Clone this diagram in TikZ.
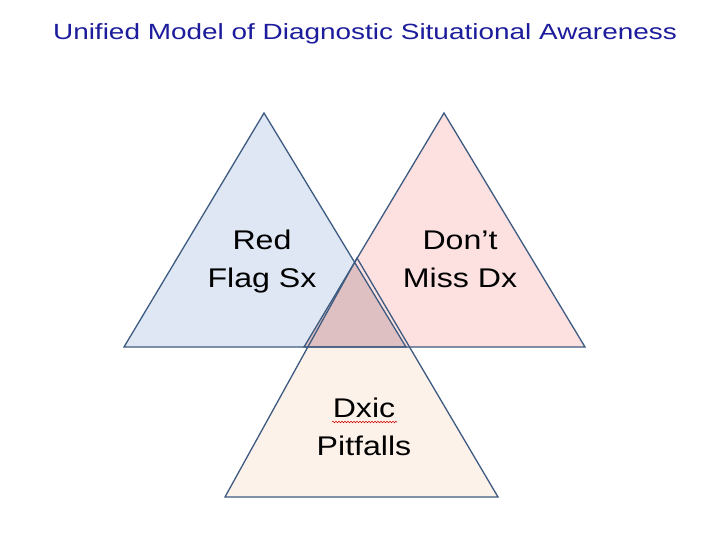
\documentclass[tikz,border=0pt]{standalone}
\usepackage{fontspec}
\setmainfont{Liberation Sans}
\usetikzlibrary{decorations.pathmorphing}

\definecolor{edgeblue}{HTML}{3D5A80}
\definecolor{titleblue}{HTML}{1C1C9C}
\definecolor{blueface}{HTML}{DEE7F3}
\definecolor{pinkface}{HTML}{FDE0E0}
\definecolor{peachface}{HTML}{FDF2EA}
\definecolor{mauveface}{HTML}{DFC0C2}

\begin{document}
\begin{tikzpicture}[
        x=1pt, y=-1pt,
        triline/.style={
            draw=edgeblue,
            line width=1.3pt,
            line join=miter},
        trilabel/.style={
            align=center,
            inner sep=0pt,
            xscale=1.19,
            font=\fontsize{27}{38}\selectfont},
        spellmark/.style={
            draw=red!80!black,
            line width=0.5pt,
            decorate,
            decoration={snake,amplitude=0.8pt,segment length=3pt}}
        ]
        \useasboundingbox (0,0) rectangle (720,540);

        % corners of the three triangles
        \coordinate (la) at (264,113);
        \coordinate (lb) at (124,347);
        \coordinate (lc) at (406,347);
        \coordinate (ra) at (444,113);
        \coordinate (rb) at (304,347);
        \coordinate (rc) at (585,347);
        \coordinate (ba) at (357,258);
        \coordinate (bb) at (225,497);
        \coordinate (bc) at (498,497);

        \node[font=\fontsize{22}{26}\selectfont,xscale=1.27,text=titleblue] (title) at (365,34)
            {Unified Model of Diagnostic Situational Awareness};

        \foreach \a/\b/\c/\f in {% apex/left/right/fill
            ba/bb/bc/peachface,
            la/lb/lc/blueface,
            ra/rb/rc/pinkface}
            \fill[\f] (\a) -- (\b) -- (\c) -- cycle;

        % where the two upper triangles overlap
        \begin{scope}
            \clip (la) -- (lb) -- (lc) -- cycle;
            \fill[mauveface] (ra) -- (rb) -- (rc) -- cycle;
        \end{scope}

        \foreach \a/\b/\c in {ba/bb/bc, la/lb/lc, ra/rb/rc}
            \draw[triline] (\a) -- (\b) -- (\c) -- cycle;

        \node[trilabel] (redflag) at (262,262) {Red\\Flag Sx};
        \node[trilabel] (dontmiss) at (460,259) {Don’t\\Miss Dx};
        \node[trilabel] (pitfalls) at (364,427) {Dxic\\Pitfalls};

        \coordinate (wavy1) at (332,422);
        \coordinate (wavy2) at (397,422);
        \draw[spellmark] (wavy1) -- (wavy2);
\end{tikzpicture}
\end{document}
